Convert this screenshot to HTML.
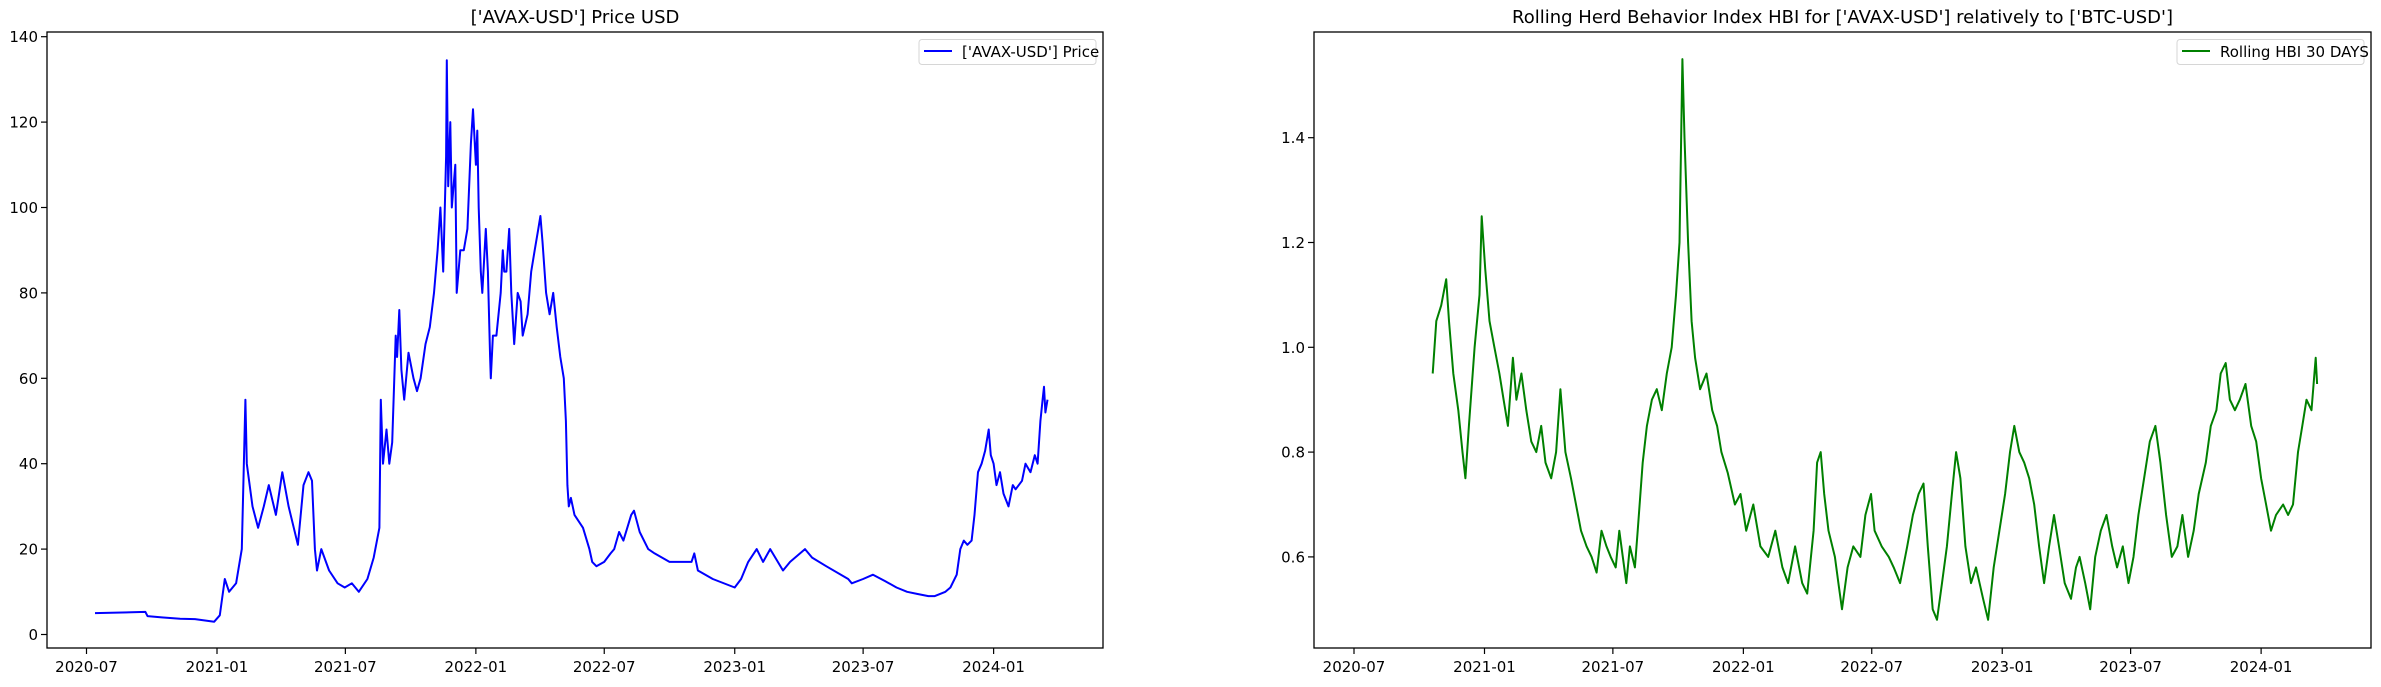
<!DOCTYPE html>
<html><head><meta charset="utf-8"><style>
body{margin:0;background:#fff;}
svg text{font-family:"DejaVu Sans","Liberation Sans",sans-serif;fill:#000;}
</style></head><body>
<svg id="c" width="2381" height="682" xmlns="http://www.w3.org/2000/svg"></svg>
<script>
const xTickLabels=["2020-07","2021-01","2021-07","2022-01","2022-07","2023-01","2023-07","2024-01"];
const priceTicks=[0,20,40,60,80,100,120,140];
const hbiTicks=[0.6,0.8,1.0,1.2,1.4];
const priceDates=["2020-07-13","2020-09-22","2020-09-25","2020-10-15","2020-11-10","2020-12-01","2020-12-28","2021-01-05","2021-01-12","2021-01-18","2021-01-28","2021-02-05","2021-02-10","2021-02-12","2021-02-20","2021-02-28","2021-03-08","2021-03-15","2021-03-25","2021-04-03","2021-04-12","2021-04-25","2021-05-03","2021-05-10","2021-05-15","2021-05-19","2021-05-22","2021-05-28","2021-06-08","2021-06-20","2021-06-30","2021-07-10","2021-07-20","2021-08-01","2021-08-10","2021-08-18","2021-08-20","2021-08-23","2021-08-28","2021-09-01","2021-09-05","2021-09-10","2021-09-12","2021-09-15","2021-09-18","2021-09-22","2021-09-28","2021-10-05","2021-10-10","2021-10-15","2021-10-22","2021-10-28","2021-11-03","2021-11-08","2021-11-12","2021-11-16","2021-11-20","2021-11-21","2021-11-23","2021-11-26","2021-11-28","2021-12-03","2021-12-05","2021-12-10","2021-12-15","2021-12-20","2021-12-25","2021-12-28","2022-01-01","2022-01-03","2022-01-05","2022-01-08","2022-01-10","2022-01-15","2022-01-18","2022-01-21","2022-01-22","2022-01-25","2022-01-30","2022-02-05","2022-02-08","2022-02-10","2022-02-13","2022-02-17","2022-02-20","2022-02-24","2022-03-01","2022-03-05","2022-03-08","2022-03-15","2022-03-20","2022-03-25","2022-03-30","2022-04-02","2022-04-05","2022-04-10","2022-04-15","2022-04-20","2022-04-25","2022-04-30","2022-05-05","2022-05-08","2022-05-10","2022-05-12","2022-05-15","2022-05-20","2022-06-01","2022-06-10","2022-06-14","2022-06-20","2022-07-01","2022-07-10","2022-07-15","2022-07-22","2022-07-28","2022-08-08","2022-08-12","2022-08-20","2022-09-01","2022-09-10","2022-10-01","2022-11-01","2022-11-05","2022-11-10","2022-12-01","2023-01-01","2023-01-10","2023-01-20","2023-02-01","2023-02-10","2023-02-20","2023-03-10","2023-03-20","2023-04-10","2023-04-20","2023-05-10","2023-06-10","2023-06-15","2023-07-01","2023-07-15","2023-08-01","2023-08-17","2023-09-01","2023-09-15","2023-10-01","2023-10-10","2023-10-25","2023-11-01","2023-11-10","2023-11-15","2023-11-20","2023-11-25","2023-12-01","2023-12-05","2023-12-10","2023-12-15","2023-12-20","2023-12-25","2023-12-28","2024-01-01","2024-01-05","2024-01-10","2024-01-15","2024-01-22","2024-01-28","2024-02-01","2024-02-10","2024-02-15","2024-02-22","2024-02-28","2024-03-03","2024-03-07","2024-03-10","2024-03-12","2024-03-14","2024-03-17"];
const priceValues=[5.0,5.3,4.3,4.0,3.7,3.6,3.0,4.5,13,10,12,20,55,40,30,25,30,35,28,38,30,21,35,38,36,20,15,20,15,12,11,12,10,13,18,25,55,40,48,40,45,70,65,76,62,55,66,60,57,60,68,72,80,90,100,85,112,134.5,105,120,100,110,80,90,90,95,115,123,110,118,100,85,80,95,85,65,60,70,70,80,90,85,85,95,80,68,80,78,70,75,85,90,95,98,92,80,75,80,72,65,60,50,35,30,32,28,25,20,17,16,17,19,20,24,22,28,29,24,20,19,17,17,19,15,13,11,13,17,20,17,20,15,17,20,18,16,13,12,13,14,12.5,11,10,9.5,9,9,10,11,14,20,22,21,22,28,38,40,43,48,42,40,35,38,33,30,35,34,36,40,38,42,40,50,55,58,52,55];
const hbiDates=["2020-10-20","2020-10-25","2020-11-01","2020-11-08","2020-11-12","2020-11-18","2020-11-25","2020-12-01","2020-12-05","2020-12-10","2020-12-18","2020-12-25","2020-12-28","2021-01-02","2021-01-08","2021-01-15","2021-01-22","2021-01-28","2021-02-03","2021-02-10","2021-02-15","2021-02-22","2021-03-01","2021-03-08","2021-03-15","2021-03-22","2021-03-28","2021-04-05","2021-04-12","2021-04-18","2021-04-25","2021-05-03","2021-05-10","2021-05-17","2021-05-25","2021-06-01","2021-06-08","2021-06-15","2021-06-22","2021-06-28","2021-07-05","2021-07-10","2021-07-15","2021-07-20","2021-07-25","2021-08-01","2021-08-05","2021-08-12","2021-08-18","2021-08-25","2021-09-01","2021-09-08","2021-09-15","2021-09-22","2021-09-28","2021-10-03","2021-10-07","2021-10-10","2021-10-15","2021-10-20","2021-10-25","2021-11-01","2021-11-10","2021-11-18","2021-11-25","2021-12-01","2021-12-10","2021-12-20","2021-12-28","2022-01-05","2022-01-15","2022-01-25","2022-02-05","2022-02-15","2022-02-25","2022-03-05","2022-03-15","2022-03-25","2022-04-01","2022-04-10","2022-04-15","2022-04-20","2022-04-25","2022-05-01","2022-05-10","2022-05-15","2022-05-20","2022-05-28","2022-06-05","2022-06-15","2022-06-22","2022-06-30","2022-07-05","2022-07-15","2022-07-25","2022-08-01","2022-08-10","2022-08-20","2022-08-28","2022-09-05","2022-09-12","2022-09-18","2022-09-25","2022-10-01","2022-10-08","2022-10-15","2022-10-22","2022-10-28","2022-11-03","2022-11-10","2022-11-18","2022-11-25","2022-12-05","2022-12-12","2022-12-20","2022-12-28","2023-01-05","2023-01-12","2023-01-18","2023-01-25","2023-02-01","2023-02-08","2023-02-15","2023-02-22","2023-03-01","2023-03-08","2023-03-15","2023-03-22","2023-03-30","2023-04-08","2023-04-15","2023-04-20","2023-04-28","2023-05-05","2023-05-12","2023-05-20","2023-05-28","2023-06-05","2023-06-12","2023-06-20","2023-06-28","2023-07-05","2023-07-12","2023-07-20","2023-07-28","2023-08-05","2023-08-12","2023-08-20","2023-08-28","2023-09-05","2023-09-12","2023-09-20","2023-09-28","2023-10-05","2023-10-15","2023-10-22","2023-10-30","2023-11-05","2023-11-12","2023-11-18","2023-11-25","2023-12-02","2023-12-10","2023-12-18","2023-12-25","2024-01-01","2024-01-08","2024-01-15","2024-01-22","2024-02-01","2024-02-08","2024-02-15","2024-02-22","2024-02-28","2024-03-05","2024-03-12","2024-03-18","2024-03-20"];
const hbiValues=[0.95,1.05,1.08,1.13,1.05,0.95,0.88,0.80,0.75,0.85,1.0,1.1,1.25,1.15,1.05,1.0,0.95,0.90,0.85,0.98,0.90,0.95,0.88,0.82,0.80,0.85,0.78,0.75,0.80,0.92,0.80,0.75,0.70,0.65,0.62,0.60,0.57,0.65,0.62,0.60,0.58,0.65,0.60,0.55,0.62,0.58,0.65,0.78,0.85,0.90,0.92,0.88,0.95,1.00,1.1,1.2,1.55,1.4,1.2,1.05,0.98,0.92,0.95,0.88,0.85,0.80,0.76,0.70,0.72,0.65,0.70,0.62,0.60,0.65,0.58,0.55,0.62,0.55,0.53,0.65,0.78,0.80,0.72,0.65,0.60,0.55,0.50,0.58,0.62,0.60,0.68,0.72,0.65,0.62,0.60,0.58,0.55,0.62,0.68,0.72,0.74,0.62,0.50,0.48,0.55,0.62,0.72,0.80,0.75,0.62,0.55,0.58,0.52,0.48,0.58,0.65,0.72,0.80,0.85,0.80,0.78,0.75,0.70,0.62,0.55,0.62,0.68,0.62,0.55,0.52,0.58,0.60,0.55,0.50,0.60,0.65,0.68,0.62,0.58,0.62,0.55,0.60,0.68,0.75,0.82,0.85,0.78,0.68,0.60,0.62,0.68,0.60,0.65,0.72,0.78,0.85,0.88,0.95,0.97,0.90,0.88,0.90,0.93,0.85,0.82,0.75,0.70,0.65,0.68,0.70,0.68,0.70,0.80,0.85,0.90,0.88,0.98,0.93];

const NS="http://www.w3.org/2000/svg";
const svg=document.getElementById('c');
function mk(tag,attrs,parent){const e=document.createElementNS(NS,tag);for(const k in attrs)e.setAttribute(k,attrs[k]);(parent||svg).appendChild(e);return e;}
const DAY=86400000, T0=Date.parse("2020-07-01"), PXD=130.5/184;
function drawPanel(cfg){
  const g=mk('g',{});
  
  
  const xs=d=>cfg.x07+(Date.parse(d)-T0)/DAY*PXD;
  const ys=cfg.ys;
  const line=mk('polyline',{points:cfg.dates.map((d,i)=>xs(d).toFixed(1)+','+ys(cfg.vals[i]).toFixed(1)).join(' '),fill:'none',stroke:cfg.color,'stroke-width':2,'stroke-linejoin':'round'},g);
  
  
  const fr=mk('rect',{x:cfg.L,y:32,width:cfg.R-cfg.L,height:648-32,fill:'none',stroke:'#000','stroke-width':1.3},g);
  
  
  xTickLabels.forEach(lbl=>{
    const x=xs(lbl+"-01");
    mk('line',{x1:x,x2:x,y1:648,y2:654,stroke:'#000','stroke-width':1.2},g);
    const t=mk('text',{x:x,y:672,'font-size':15,'text-anchor':'middle'},g);t.textContent=lbl;
    
    
  });
  cfg.ticks.forEach(v=>{
    const y=ys(v);
    mk('line',{x1:cfg.L-6,x2:cfg.L,y1:y,y2:y,stroke:'#000','stroke-width':1.2},g);
    const t=mk('text',{x:cfg.L-9,y:y+5.5,'font-size':15,'text-anchor':'end'},g);t.textContent=cfg.fmt(v);
    
    
  });
  const tt=mk('text',{x:(cfg.L+cfg.R)/2,y:23,'font-size':18,'text-anchor':'middle'},g);tt.textContent=cfg.title;
  
  
  const lg=mk('g',{},g);
  
  
  mk('rect',{x:cfg.lgx,y:39.5,width:cfg.R-7-cfg.lgx,height:25,rx:3,fill:'#fff',stroke:'#d6d6d6'},lg);
  mk('line',{x1:cfg.lgx+5,x2:cfg.lgx+33,y1:51,y2:51,stroke:cfg.color,'stroke-width':2},lg);
  const lt=mk('text',{x:cfg.lgx+43,y:57,'font-size':15},lg);lt.textContent=cfg.legend;
}
drawPanel({name:'price-chart',L:47,R:1103,x07:86.5,dates:priceDates,vals:priceValues,color:'#0000ff',
  ys:v=>634.5-v*4.27,ticks:priceTicks,fmt:v=>String(v),title:"['AVAX-USD'] Price USD",legend:"['AVAX-USD'] Price",lgx:919});
drawPanel({name:'hbi-chart',L:1314,R:2371,x07:1354,dates:hbiDates,vals:hbiValues,color:'#008000',
  ys:v=>347.3-(v-1.0)*524,ticks:hbiTicks,fmt:v=>v.toFixed(1),title:"Rolling Herd Behavior Index HBI for ['AVAX-USD'] relatively to ['BTC-USD']",legend:"Rolling HBI 30 DAYS",lgx:2177});
</script>
</body></html>
